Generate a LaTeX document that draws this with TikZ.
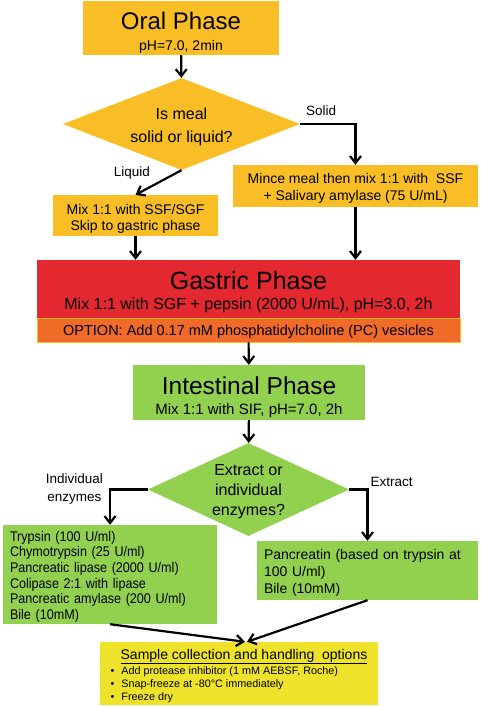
\documentclass[tikz,border=0pt]{standalone}
\usepackage{fontspec}
\setmainfont{Liberation Sans}
\newfontfamily\narrowfont[FakeStretch=0.9]{Liberation Sans}
\usetikzlibrary{positioning,arrows.meta,shapes.geometric}

\definecolor{oralc}{HTML}{F9BE26}
\definecolor{gastc}{HTML}{E3282F}
\definecolor{optc}{HTML}{F06A28}
\definecolor{intc}{HTML}{92D050}
\definecolor{sampc}{HTML}{EEE32A}

\newcommand\fs[2]{\fontsize{#1}{#2}\selectfont}
% pushes the first line of a box down
\newcommand\pad[1]{\rule{0pt}{\dimexpr\fontcharht\font`(+#1pt\relax}}

\begin{document}
\begin{tikzpicture}[x=1pt, y=-1pt,
  box/.style={fill=#1, inner sep=0pt, align=center},
  dia/.style={diamond, fill=#1, inner sep=0pt, aspect=2.2, align=center, font=\fs{16}{20}},
  arr/.style={-{Straight Barb[length=7pt,width=11pt]}, line width=2.2pt},
  lbl/.style={font=\fs{13.5}{18}, inner sep=2pt, align=center}]
\useasboundingbox (0,0) rectangle (480,707);

% oral phase and the solid/liquid choice
\node[box=oralc, minimum width=196pt, minimum height=54pt] (oral) at (181,28)
  {{\fs{24}{26}\pad{11}Oral Phase}\\[9pt]{\fs{14}{16}pH=7.0, 2min}};
\node[dia=oralc, minimum width=237pt, minimum height=92pt] (meal) at (181.5,124)
  {\pad{7}Is meal\\[3pt]solid or liquid?};
\node[box=oralc, minimum width=245pt, minimum height=42pt, font=\fs{14}{17}] (mince) at (355.5,186)
  {\pad{6}Mince meal then mix 1:1 with\ \ SSF\\+ Salivary amylase (75 U/mL)};
\node[box=oralc, minimum width=165pt, minimum height=41pt, font=\fs{14}{16}] (mix) at (135.5,215.5)
  {\pad{7}Mix 1:1 with SSF/SGF\\Skip to gastric phase};

% gastric phase
\node[box=gastc, minimum width=423pt, minimum height=58pt] (gastric) at (248.5,289)
  {{\fs{25}{27}\pad{8}Gastric Phase}\\[8pt]{\fs{16}{18}Mix 1:1 with SGF + pepsin (2000 U/mL), pH=3.0, 2h}};
\node[box=optc, draw=oralc, line width=0.8pt, minimum width=423pt, minimum height=24pt, font=\fs{14.5}{16}] (option) at (248.5,330)
  {\pad{4}OPTION: Add 0.17 mM phosphatidylcholine (PC) vesicles};

% intestinal phase
\node[box=intc, minimum width=232pt, minimum height=55pt] (intest) at (249,392.5)
  {{\fs{24.5}{26}\pad{10}Intestinal Phase}\\[8pt]{\fs{15}{17}Mix 1:1 with SIF, pH=7.0, 2h}};
\node[dia=intc, minimum width=201pt, minimum height=93pt] (extract) at (248.5,489.5)
  {\pad{4}Extract or\\individual\\enzymes?};
\node[box=intc, minimum width=214pt, minimum height=99pt, text width=200pt, align=left, font=\narrowfont\fs{14}{15.6}] (enz) at (110,574.5)
  {\pad{5}Trypsin (100 U/ml)\\Chymotrypsin (25 U/ml)\\Pancreatic lipase (2000 U/ml)\\Colipase 2:1 with lipase\\Pancreatic amylase (200 U/ml)\\Bile (10mM)};
\node[box=intc, minimum width=221pt, minimum height=59pt, text width=207pt, align=left, font=\fs{14}{17}] (pancr) at (367.5,570.5)
  {\pad{6}Pancreatin (based on trypsin at\\100 U/ml)\\Bile (10mM)};

% sampling
\node[box=sampc, minimum width=278pt, minimum height=63pt, align=left, font=\fs{10.8}{13}] (sample) at (239,673.5)
  {\hspace*{10pt}{\fs{14}{15}\pad{5}\underline{Sample collection and handling\ \ options}}\\[2pt]
   \textbullet\hspace{7pt}Add protease inhibitor (1 mM AEBSF, Roche)\\
   \textbullet\hspace{7pt}Snap-freeze at -80°C immediately\\
   \textbullet\hspace{7pt}Freeze dry};

\draw[arr] (oral) -- (meal);
\draw[arr] (meal.east) -| node[lbl, pos=0.19, above=5pt] {Solid} (mince.north);
\draw[arr] (meal.south) -- node[lbl, pos=0.1, left=24pt] {Liquid} (mix.north);
\draw[arr] (mix.south) -- (mix.south |- gastric.north);
\draw[arr] (mince.south) -- (mince.south |- gastric.north);
\draw[arr] (option) -- (intest);
\draw[arr] (intest) -- (extract);
\draw[arr] (extract.west) -| node[lbl, pos=0.5, left=4pt] {Individual\\enzymes} (enz.north);
\draw[arr] (extract.east) -| node[lbl, pos=0.5, anchor=south west] {Extract} (pancr.north);
\draw[arr] (enz.south) -- ([xshift=6pt]sample.north);
\draw[arr] (pancr.south) -- ([xshift=8pt]sample.north);
\end{tikzpicture}
\end{document}
